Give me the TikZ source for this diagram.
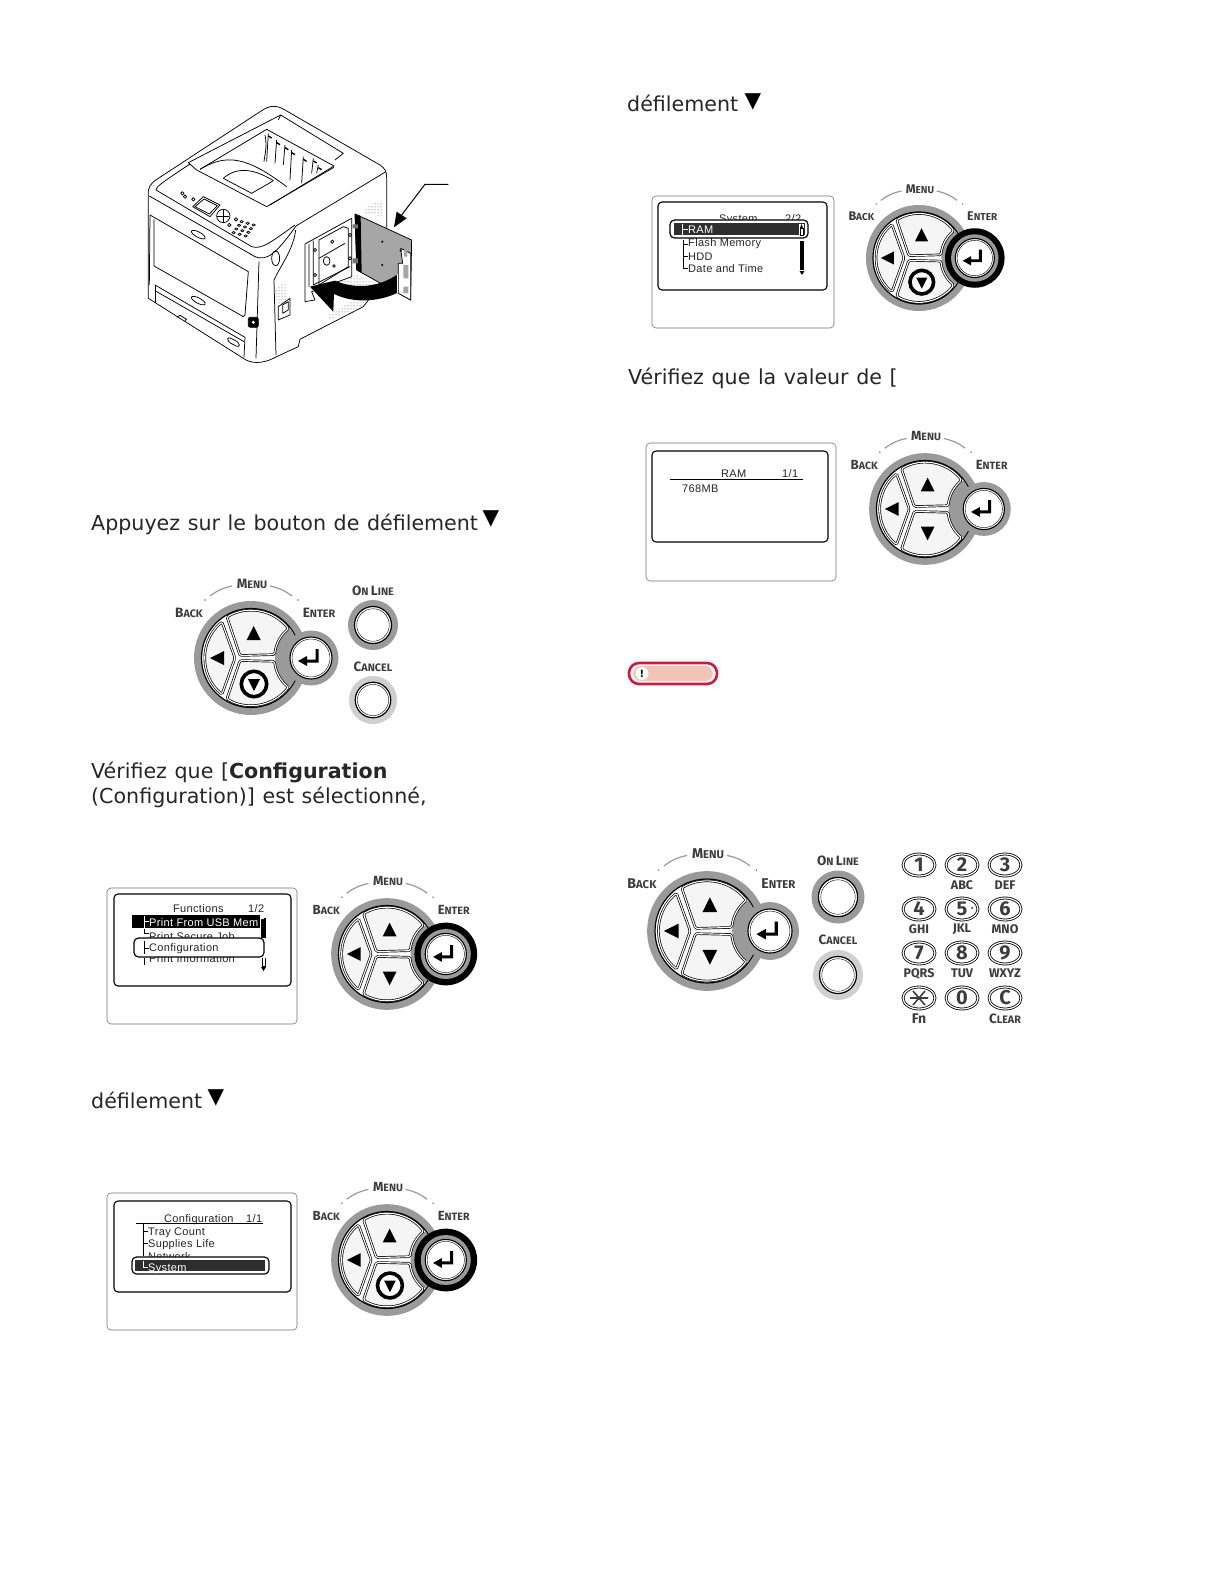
\documentclass[tikz,border=0pt]{standalone}
\usepackage{fontspec}
\setmainfont{DejaVu Sans}[WordSpace=1.16]
\newfontfamily\padfont{Fira Sans}
\newfontfamily\lcdfont[LetterSpace=3]{Liberation Sans}
\usetikzlibrary{arrows.meta, positioning, patterns}

\definecolor{ringgray}{HTML}{9A9A9A}
\definecolor{ringpale}{HTML}{CFCFCF}
\definecolor{labink}{HTML}{3C3C3C}
\definecolor{notered}{HTML}{D8143A}
\definecolor{notefill}{HTML}{F2C4B4}

\newcommand{\padlab}[2]{{\fontsize{13.5}{14}\selectfont #1}{\fontsize{10.8}{14}\selectfont #2}}

% name, x, y, scale, enter lit, down lit
\newcommand{\oppad}[6]{%
  \begin{scope}[shift={(#2,#3)},scale=#4,transform shape]
    \node[padtext] (#1menu) at (1,-74) {\padlab{M}{ENU}};
    \node[padtext] (#1back) at (-62,-45) {\padlab{B}{ACK}};
    \node[padtext] (#1enter) at (68,-45) {\padlab{E}{NTER}};
    \draw[ringgray, line width=1.2pt] (-41,-62) to[bend left=12] (-19,-72);
    \draw[ringgray, line width=1.2pt] (19,-72) to[bend left=12] (41,-62);
    \fill[black!60] (-46,-58) circle[radius=.8] (47,-58) circle[radius=.8];
    % disc and keys
    \fill[ringgray] (0,0) circle[radius=57];
    \draw[black, fill=white, line width=1.2pt] (0,0) circle[radius=49.5];
    \begin{scope}
      \clip (0,0) circle[radius=49];
      \fill[ringgray] (60,0) circle[radius=36];
    \end{scope}
    \path[padkey] (-24,-41) arc[start angle=239.6, end angle=322, radius=47.5]
      arc[start angle=231, end angle=185, radius=37.5] -- (-11,-2.5) -- cycle;
    \path[padkey] (-11,2.5) -- (23.6,3.3) arc[start angle=175, end angle=129, radius=37.5]
      arc[start angle=38, end angle=120.4, radius=47.5] -- cycle;
    \path[padkey] (-29,-36) arc[start angle=231, end angle=129, radius=46.5] -- (-16,0) -- cycle;
    \fill (2.7,-32) -- (9.7,-18) -- (-4.3,-18) -- cycle;
    \fill (-41,0) -- (-27,-7) -- (-27,7) -- cycle;
    \ifnum#6=1
      \draw[line width=3.6pt, fill=white] (3,26) circle[radius=12.7];
      \fill (-3,21) -- (9,21) -- (3,33) -- cycle;
    \else
      \fill (-4.3,18) -- (9.7,18) -- (2.7,32) -- cycle;
    \fi
    % enter key
    \ifnum#5=1
      \fill (60,0) circle[radius=32];
      \fill[ringgray] (60,0) circle[radius=25.5];
    \else
      \fill[ringgray] (60,0) circle[radius=27.5];
    \fi
    \draw[line width=1.1pt, fill=white] (60,0) circle[radius=21];
    \draw[line width=.4pt] (60,0) circle[radius=19];
    \fill (67.5,-9) -- (67.5,4.5) -- (56,4.5) -- (56,8) -- (47,3) -- (56,-2) -- (56,1.5)
      -- (64.5,1.5) -- (64.5,-9) -- cycle;
  \end{scope}}

% name, x, y, radius, ring colour, label dy, label
\newcommand{\padbutton}[7]{%
  \fill[#5] (#2,#3) circle[radius=#4];
  \draw[line width=1.2pt, fill=white] (#2,#3) circle[radius=#4*.74];
  \draw[line width=.4pt] (#2,#3) circle[radius=#4*.65];
  \node[padtext] (#1) at (#2,#3-#6) {#7};}

\begin{document}
\begin{tikzpicture}[
    x=1pt, y=-1pt,
    bodytext/.style={anchor=base west, inner sep=0pt, font=\fontsize{20.6}{24}\selectfont, text=black!85},
    downmark/.style={inner sep=0pt, font=\fontsize{21.5}{24}\selectfont},
    padtext/.style={inner sep=0pt, font=\padfont\bfseries, text=labink},
    padkey/.style={fill=white!96!black, draw=black, line width=.7pt, double=white, double distance=1.1pt,
                   rounded corners=1.5pt},
    lcdouter/.style={draw=black!55, line width=.6pt, rounded corners=4pt, fill=white},
    lcdinner/.style={draw=black, line width=1.1pt, rounded corners=4pt, fill=white},
    lcdtext/.style={inner sep=0pt, anchor=base west, font=\lcdfont\fontsize{11}{12}\selectfont, text=black!85},
    lcdpick/.style={draw=black, line width=1.2pt, rounded corners=4.5pt, fill=white},
    keypadkey/.style={draw=black, line width=.8pt, double=white, double distance=1.2pt, fill=white},
    keytext/.style={inner sep=0pt, font=\padfont\bfseries\fontsize{20}{21}\selectfont, text=labink},
    subtext/.style={inner sep=0pt, font=\padfont\bfseries\fontsize{12.5}{13}\selectfont, text=labink},
    >=Stealth
  ]
  \useasboundingbox (0,0) rectangle (1224,1584);
  \fill[white] (0,0) rectangle (1224,1584);

  % Printer
  \begin{scope}[shift={(130,90)}, x=.3333pt, y=-.3333pt, line width=.75pt, line join=round]
    \draw[fill=white] (55,320) .. controls (52,290) and (62,280) .. (85,265) -- (395,62)
      .. controls (420,45) and (440,45) .. (465,60) -- (750,225)
      .. controls (765,235) and (770,245) .. (770,262) -- (770,560) -- (700,650) -- (510,748)
      -- (505,770) -- (440,800) .. controls (395,825) and (360,820) .. (340,805) -- (55,625) -- cycle;
    % top
    \draw (58,318) -- (375,500) .. controls (410,515) and (440,490) .. (498,408) -- (768,245);
    \draw (78,300) -- (365,470) .. controls (395,480) and (425,455) .. (495,405);
    \draw (78,300) .. controls (80,290) and (85,285) .. (180,222);
    \draw (175,218) -- (452,75) -- (640,190) -- (615,210);
    \draw (445,90) -- (452,75);
    \draw (175,218) -- (200,240) -- (410,350) -- (612,232);
    \draw (210,238) -- (410,118) -- (612,228) -- (420,345);
    \draw (210,238) .. controls (290,190) and (350,200) .. (470,290);
    \draw (280,265) .. controls (320,230) and (370,235) .. (430,272);
    \draw (280,265) -- (365,310) .. controls (390,295) and (410,285) .. (430,272);
    \foreach \rx/\ry/\rl in {415/130/85,440/150/70,465/165/60,485/180/90,520/200/80,550/205/45,565/225/25} {
      \draw (\rx,\ry) -- (\rx-5,\ry+\rl);
      \draw[line width=1.4pt] (\rx,\ry+8) -- (\rx+10,\ry+14);
    }
    \draw (405,135) .. controls (412,170) and (405,190) .. (402,215);
    % panel
    \draw[fill=white] (188,350) -- (220,320) -- (270,345) -- (240,380) -- cycle;
    \draw (195,350) -- (222,327) -- (262,347) -- (238,372) -- cycle;
    \draw (280,378) circle[radius=20];
    \draw (262,378) -- (298,378) (280,360) -- (280,396);
    \foreach \px/\py in {157/310,165/320,190/328,318/388,298/405} {
      \draw (\px,\py) circle[radius=5];
    }
    \foreach \cl in {0,1,2} {
      \foreach \rw in {0,1,2,3} {
        \draw (335+\cl*18-\rw*8,395+\cl*5+\rw*11) circle[x radius=5, y radius=3.5];
      }
    }
    % front
    \draw (60,375) -- (355,545) -- (345,675);
    \draw (72,388) -- (72,528) -- (340,680) -- (345,675);
    \draw (60,375) -- (58,585);
    \draw[rotate around={-28:(205,434)}] (205,434) ellipse[x radius=23, y radius=8];
    \draw (75,585) -- (345,742) -- (342,802);
    \draw (75,602) -- (342,755);
    \draw (75,585) -- (75,640);
    \draw[rotate around={-28:(205,632)}] (205,632) ellipse[x radius=23, y radius=8];
    \draw (140,682) -- (150,676) -- (170,688) -- (165,692);
    \draw[rounded corners=3pt] (293,740) -- (328,758) -- (328,773) -- (293,755) -- cycle;
    \draw (387,515) -- (378,805);
    \draw (497,420) .. controls (490,480) and (450,530) .. (432,570) -- (438,795);
    \draw (437,505) ellipse[x radius=12, y radius=22];
    \draw (445,650) -- (480,625) -- (480,675) -- (445,690) -- cycle;
    \draw (458,645) -- (475,635) -- (475,660) -- (458,670) -- cycle;
    \draw[fill=black, rounded corners=2pt] (355,682) rectangle (385,712);
    \fill[white] (370,697) circle[radius=5];
    % side vents
    \path[pattern=dots, pattern color=black!70] (700,355) -- (760,330) -- (760,380) -- (700,370) -- cycle;
    \path[pattern=dots, pattern color=black!70] (435,600) -- (465,575) -- (470,640) -- (440,660) -- cycle;
    \path[pattern=dots, pattern color=black!70] (590,680) -- (720,600) -- (715,640) -- (600,690) -- cycle;
    % opening
    \draw[fill=white] (525,462) -- (665,385) -- (665,560) -- (545,605) -- (555,630) -- (525,635) -- cycle;
    \draw (537,462) -- (537,590) (550,452) -- (550,585) -- (660,530);
    \draw (567,450) -- (640,410) -- (655,415) -- (655,530) -- (567,585) -- cycle;
    \draw (567,505) -- (645,460);
    \foreach \hx/\hy in {607/455,555/480,555/555,660/435,660/505} {
      \draw (\hx,\hy) circle[radius=5];
    }
    \draw (590,513) ellipse[x radius=10, y radius=13];
    \draw (612,528) circle[radius=4];
    \path[pattern=dots, pattern color=black!70] (625,575) -- (680,555) -- (760,590) -- (680,610) -- cycle;
    % door
    \draw[fill=black!35] (675,372) -- (845,450) -- (842,630) -- (680,540) -- cycle;
    \fill[black] (675,372) -- (692,378) -- (695,548) -- (680,540) -- cycle;
    \fill[black!55] (668,403) rectangle (684,415) (668,505) rectangle (684,520);
    \draw[fill=white] (812,475) -- (842,490) -- (842,630) -- (805,610) -- (805,520) -- (818,520) -- cycle;
    \fill[black!35] (822,480) rectangle (832,500) (820,525) rectangle (835,565) (820,590) rectangle (835,610);
    \fill (757,455) circle[radius=3.5] (812,482) circle[radius=3.5] (757,525) circle[radius=3.5];
    % curved arrow
    \fill (803,553) .. controls (750,590) and (680,600) .. (615,572) -- (540,590) -- (610,665) -- (612,612)
      .. controls (680,645) and (760,630) .. (803,608) -- cycle;
    \draw[draw=white, line width=1.2pt] (803,553) -- (803,608);
    % leader
    \coordinate (doorlead) at (955,283);
    \coordinate (doorbend) at (885,283);
    \coordinate (doortip) at (792,412);
    \draw[line width=1pt] (doorlead) -- (doorbend) -- (815,375);
    \fill (800,365) -- (doortip) -- (830,385) -- cycle;
  \end{scope}

  % Left column text
  \node[bodytext] (scrolltext) at (91,530) {Appuyez sur le bouton de défilement};
  \node[downmark] (scrollmark) at (491,519) {▼};
  \oppad{first}{251}{658}{1}{0}{1}
  \padbutton{online}{373}{625}{25}{ringgray}{34}{\padlab{O}{N} \padlab{L}{INE}}
  \padbutton{cancel}{373}{700}{24}{ringpale}{33}{\padlab{C}{ANCEL}}
  \node[bodytext] (checktext) at (91,778) {Vérifiez que [\textbf{Configuration}};
  \node[bodytext] (checktextb) at (91,803) {(Configuration)] est sélectionné,};

  % Functions screen
  \draw[lcdouter] (107,888) rectangle (297,1024);
  \draw[lcdinner] (114,894) rectangle (291,986);
  \node[lcdtext] (fntitle) at (173,912) {Functions};
  \node[lcdtext] (fnpage) at (248,912) {1/2};
  \fill (132,915) rectangle (260,928);
  \node[lcdtext, text=white] (fnusb) at (149,926) {Print From USB Mem};
  \node[lcdtext] (fnjob) at (149,940) {Print Secure Job};
  \node[lcdtext] (fninfo) at (149,962.5) {Print Information};
  \draw[lcdpick] (134,938) rectangle (264,957);
  \node[lcdtext] (fnconf) at (149,951) {Configuration};
  \draw[white, line width=.7pt] (144,916) -- (144,928) (144,921) -- (149,921);
  \draw[line width=.6pt] (144,929) -- (144,933) -- (149,933);
  \draw[line width=.6pt] (144,941) -- (144,954) (144,948) -- (149,948);
  \draw[line width=.6pt] (144,958) -- (144,965);
  \fill (261,918) rectangle (266,938);
  \fill[white] (262,915) -- (264,919) -- (260,919) -- cycle;
  \draw[line width=.6pt] (262,958) -- (262,966) -- (265,966) -- (265,958);
  \fill (261,967) -- (266,967) -- (263.5,971) -- cycle;
  \oppad{second}{387}{954}{.98}{1}{0}

  \node[bodytext] (nexttext) at (91,1108) {défilement};
  \node[downmark] (nextmark) at (216,1098) {▼};

  % Configuration screen
  \draw[lcdouter] (107,1193) rectangle (297,1330);
  \draw[lcdinner] (114,1201) rectangle (291,1292);
  \node[lcdtext] (cftitle) at (164,1222) {Configuration};
  \node[lcdtext] (cfpage) at (246,1222) {1/1};
  \draw[line width=.6pt] (136,1223) -- (263,1223);
  \node[lcdtext] (cftray) at (148,1235) {Tray Count};
  \node[lcdtext] (cfsup) at (148,1247) {Supplies Life};
  \node[lcdtext] (cfnet) at (148,1260) {Network};
  \draw[line width=.6pt] (143,1223) -- (143,1256) (143,1231) -- (148,1231) (143,1243) -- (148,1243);
  \draw[lcdpick] (132,1257) rectangle (269,1274);
  \fill[black!82] (135,1260) rectangle (265,1271);
  \node[lcdtext, text=white] (cfsys) at (148,1271) {System};
  \draw[white, line width=.6pt] (143,1261) -- (143,1267) -- (148,1267);
  \oppad{third}{387}{1260}{.98}{1}{1}

  % Right column
  \node[bodytext] (toptext) at (627,112) {défilement};
  \node[downmark] (topmark) at (753,102) {▼};

  % System screen
  \draw[lcdouter] (652,196) rectangle (834,328);
  \draw[lcdinner] (658,202) rectangle (827,290);
  \node[lcdtext] (sytitle) at (719,222.5) {System};
  \node[lcdtext] (sypage) at (785,222.5) {2/2};
  \node[lcdtext] (syflash) at (688,246.5) {Flash Memory};
  \draw[lcdpick] (670,220) rectangle (808,238);
  \fill[black!82] (674,223) rectangle (805,235);
  \node[lcdtext, text=white] (syram) at (688,233) {RAM};
  \draw[white, line width=.6pt] (682,224) -- (682,235) (682,229) -- (688,229);
  \fill[white] (799,224) rectangle (804,235);
  \draw[line width=.5pt] (800,228) rectangle (803,235);
  \fill (800,228) -- (803,228) -- (801.5,224) -- cycle;
  \node[lcdtext] (syhdd) at (688,260) {HDD};
  \node[lcdtext] (sydate) at (688,272) {Date and Time};
  \draw[line width=.6pt] (683,240) -- (683,268) -- (688,268) (683,244) -- (688,244) (683,256) -- (688,256);
  \fill (800,241) rectangle (804,270);
  \fill (799.5,271) -- (804.5,271) -- (802,275) -- cycle;
  \oppad{fourth}{919}{258}{.93}{1}{1}

  \node[bodytext] (ramtext) at (628,384) {Vérifiez que la valeur de [};

  % RAM screen
  \draw[lcdouter] (646,443) rectangle (836,581);
  \draw[lcdinner] (652,451) rectangle (828,542);
  \node[lcdtext] (ramtitle) at (721,477) {RAM};
  \node[lcdtext] (rampage) at (782,477) {1/1};
  \draw[line width=.6pt] (670,479) -- (803,479);
  \node[lcdtext] (ramsize) at (682,492) {768MB};
  \oppad{fifth}{925}{509}{.98}{0}{0}

  % Note tag
  \draw[notered, line width=2.6pt, fill=white, rounded corners=10pt] (629,663) rectangle (717,684);
  \fill[notefill, rounded corners=8pt] (633,666) rectangle (713,681);
  \fill[white] (642,673.5) circle[radius=6.5];
  \node[inner sep=0pt, font=\bfseries\fontsize{10}{10}\selectfont] (notesign) at (642,673.5) {!};

  % Last pad
  \oppad{sixth}{707}{931}{1.05}{0}{0}
  \padbutton{onlineb}{838}{897}{26.5}{ringgray}{36}{\padlab{O}{N} \padlab{L}{INE}}
  \padbutton{cancelb}{838}{975}{25}{ringpale}{35}{\padlab{C}{ANCEL}}

  % Keypad
  \foreach \k/\kx/\ky/\sub in {1/919/865/{},2/962/865/ABC,3/1005/865/DEF,4/919/909/GHI,5/962/909/JKL,
      6/1005/909/MNO,7/919/953/PQRS,8/962/953/TUV,9/1005/953/WXYZ,0/962/998/{}} {
    \draw[keypadkey] (\kx,\ky) ellipse[x radius=16, y radius=11];
    \node[keytext] (key\k) at (\kx,\ky) {\k};
    \node[subtext] (sub\k) at (\kx,\ky+20.5) {\sub};
  }
  \fill (972,908) circle[radius=1];
  \fill[white] (972,908) circle[radius=.5];
  \draw[keypadkey] (919,998) ellipse[x radius=16, y radius=11];
  \draw[labink, line width=1.6pt] (910,998) -- (928,998) (913,991) -- (925,1005) (925,991) -- (913,1005);
  \node[subtext, font=\padfont\bfseries\fontsize{14}{14}\selectfont] (subfn) at (919,1019) {Fn};
  \draw[keypadkey] (1005,998) ellipse[x radius=16, y radius=11];
  \node[keytext] (keyc) at (1005,998) {C};
  \node[padtext] (subclear) at (1005,1019) {\padlab{C}{LEAR}};
\end{tikzpicture}
\end{document}
